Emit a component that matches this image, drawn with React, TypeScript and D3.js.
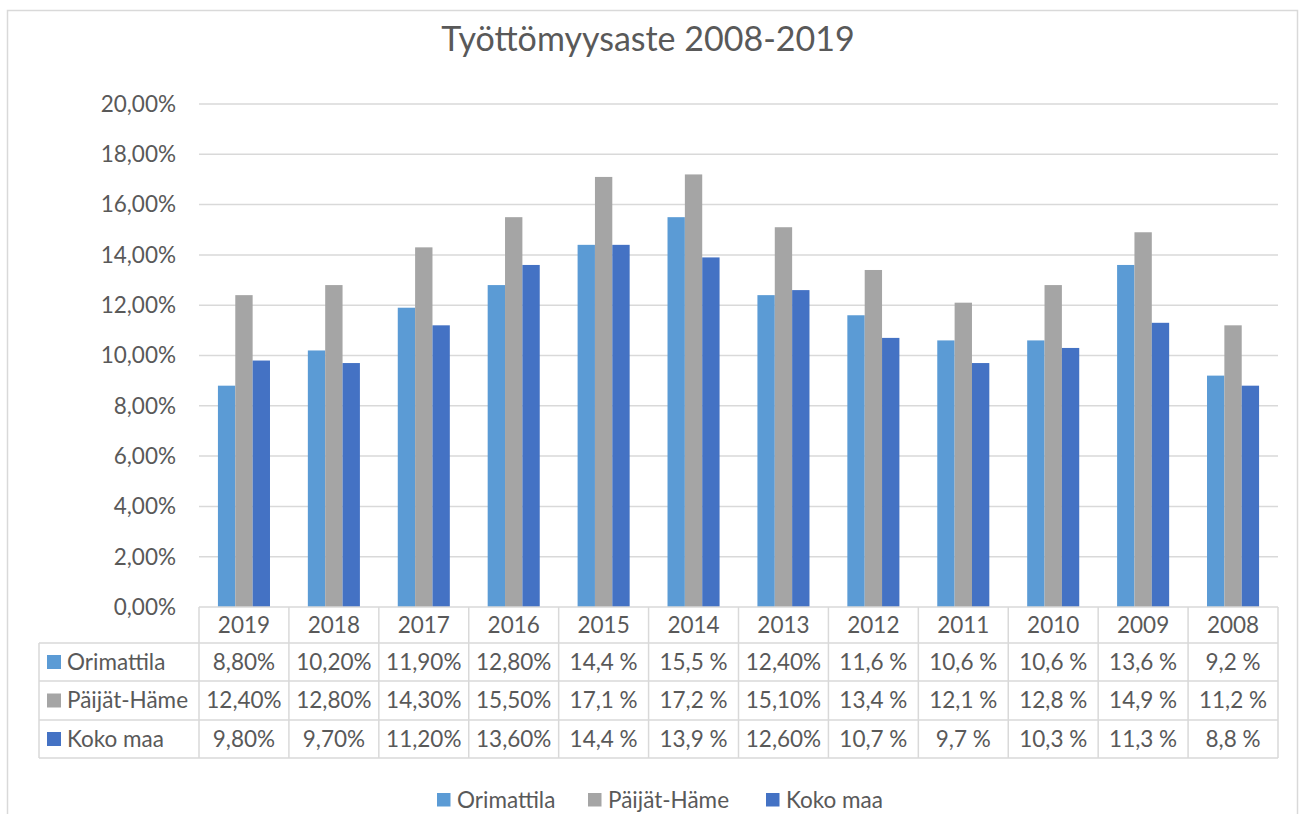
import React from "react";
import * as d3 from "d3";

// years, shown left to right (newest first, like the original)
const years = ["2019", "2018", "2017", "2016", "2015", "2014", "2013", "2012", "2011", "2010", "2009", "2008"];
const seriesNames = ["Orimattila", "Päijät-Häme", "Koko maa"];
const seriesColors = ["#5B9BD5", "#A5A5A5", "#4472C4"];

const orimattila = [8.8, 10.2, 11.9, 12.8, 14.4, 15.5, 12.4, 11.6, 10.6, 10.6, 13.6, 9.2];
const paijatHame = [12.4, 12.8, 14.3, 15.5, 17.1, 17.2, 15.1, 13.4, 12.1, 12.8, 14.9, 11.2];
const kokoMaa = [9.8, 9.7, 11.2, 13.6, 14.4, 13.9, 12.6, 10.7, 9.7, 10.3, 11.3, 8.8];

// how each year's cell is formatted in the data table
const cellFormat = ["2dec", "2dec", "2dec", "2dec", "1dec", "1dec", "2dec", "1dec", "1dec", "1dec", "1dec", "1dec"];

const yTicks = [0, 2, 4, 6, 8, 10, 12, 14, 16, 18, 20];

const FONT = "Lato, 'Open Sans', sans-serif";
const TXT = "#595959";
const GRID = "#D9D9D9";
const FS = 22.5;

function fmt(v: number, kind: string) {
  if (kind === "2dec") return v.toFixed(2).replace(".", ",") + "%";
  return v.toFixed(1).replace(".", ",") + " %";
}

export default function App() {
  const W = 1301, H = 814;
  const left = 199, right = 1278, top = 104, bottom = 607;
  const allSeries = [orimattila, paijatHame, kokoMaa];

  const x = d3.scaleBand().domain(years).range([left, right]);
  const y = d3.scaleLinear().domain([0, 20]).range([bottom, top]);
  const bw = x.bandwidth() * 0.193;

  const rowTops = [607, 643, 681, 720, 758];
  const tableLeft = 39;

  return (
    <svg width={W} height={H} style={{ position: "absolute", left: 0, top: 0 }} fontFamily={FONT}>
      <rect x={0} y={0} width={W} height={H} fill="#fff" />
      <rect x={7.5} y={10.5} width={1290} height={900} fill="none" stroke={GRID} strokeWidth={1.5} />
      <text x={648} y={51} textAnchor="middle" fontSize={34} fill={TXT}>Työttömyysaste 2008-2019</text>

      {yTicks.map(t => (
        <g key={t}>
          {t > 0 && <line x1={left} x2={right} y1={y(t)} y2={y(t)} stroke={GRID} strokeWidth={1.5} />}
          <text x={176} y={y(t)} dy="0.35em" textAnchor="end" fontSize={FS} fill={TXT}>
            {t.toFixed(2).replace(".", ",") + "%"}
          </text>
        </g>
      ))}

      {years.map((yr, i) => {
        const cx = (x(yr) as number) + x.bandwidth() / 2;
        return allSeries.map((s, k) => (
          <rect key={yr + k} x={cx - 1.5 * bw + k * bw} y={y(s[i])} width={bw} height={bottom - y(s[i])}
            fill={seriesColors[k]} />
        ));
      })}

      {/* data table */}
      <line x1={left} x2={right} y1={rowTops[0]} y2={rowTops[0]} stroke={GRID} strokeWidth={1.5} />
      {rowTops.slice(1).map(r => (
        <line key={r} x1={tableLeft} x2={right} y1={r} y2={r} stroke={GRID} strokeWidth={1.5} />
      ))}
      <line x1={tableLeft} x2={tableLeft} y1={rowTops[1]} y2={rowTops[4]} stroke={GRID} strokeWidth={1.5} />
      {years.map(yr => (
        <line key={"v" + yr} x1={x(yr)} x2={x(yr)} y1={rowTops[0]} y2={rowTops[4]} stroke={GRID} strokeWidth={1.5} />
      ))}
      <line x1={right} x2={right} y1={rowTops[0]} y2={rowTops[4]} stroke={GRID} strokeWidth={1.5} />

      {years.map(yr => (
        <text key={"h" + yr} x={(x(yr) as number) + x.bandwidth() / 2} y={(rowTops[0] + rowTops[1]) / 2} dy="0.35em"
          textAnchor="middle" fontSize={FS} fill={TXT}>{yr}</text>
      ))}

      {allSeries.map((s, k) => {
        const cy = (rowTops[k + 1] + rowTops[k + 2]) / 2;
        return (
          <g key={"row" + k}>
            <rect x={47} y={cy - 7} width={14} height={14} fill={seriesColors[k]} />
            <text x={67} y={cy} dy="0.35em" fontSize={FS} fill={TXT}>{seriesNames[k]}</text>
            {years.map((yr, i) => (
              <text key={yr} x={(x(yr) as number) + x.bandwidth() / 2} y={cy} dy="0.35em"
                textAnchor="middle" fontSize={FS} fill={TXT}>{fmt(s[i], cellFormat[i])}</text>
            ))}
          </g>
        );
      })}

      {/* legend */}
      {[437, 588, 766].map((lx, k) => (
        <g key={"lg" + k}>
          <rect x={lx} y={793} width={13.5} height={13.5} fill={seriesColors[k]} />
          <text x={lx + 20} y={800} dy="0.35em" fontSize={FS} fill={TXT}>{seriesNames[k]}</text>
        </g>
      ))}
    </svg>
  );
}
